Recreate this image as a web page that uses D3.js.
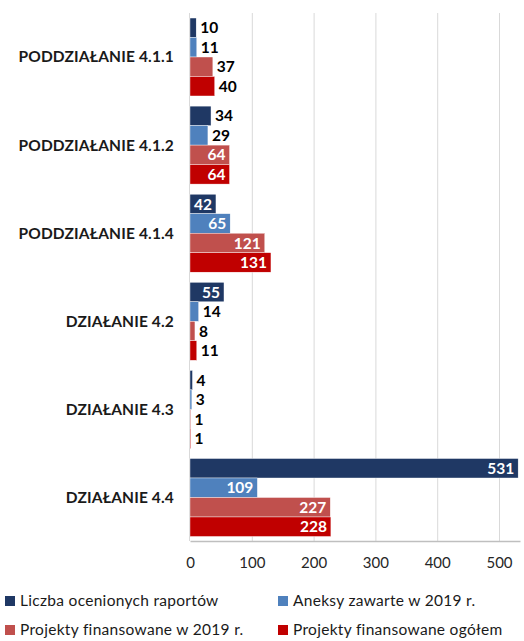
<!DOCTYPE html>
<html>
<head>
<meta charset="utf-8">
<script src="https://cdn.jsdelivr.net/npm/d3@7"></script>
<style>
  body { margin: 0; background: #fff; }
  text { font-family: Lato, "Open Sans", sans-serif; }
</style>
</head>
<body>
<div id="chart"></div>
<script>
const categories = ["PODDZIAŁANIE 4.1.1", "PODDZIAŁANIE 4.1.2", "PODDZIAŁANIE 4.1.4", "DZIAŁANIE 4.2", "DZIAŁANIE 4.3", "DZIAŁANIE 4.4"];
const seriesNames = ["Liczba ocenionych raportów", "Aneksy zawarte w 2019 r.", "Projekty finansowane w 2019 r.", "Projekty finansowane ogółem"];
const liczbaRaportow = [10, 34, 42, 55, 4, 531];
const aneksy2019 = [11, 29, 65, 14, 3, 109];
const projekty2019 = [37, 64, 121, 8, 1, 227];
const projektyOgolem = [40, 64, 131, 11, 1, 228];
const xTicks = [0, 100, 200, 300, 400, 500];
const colors = ["#1F3864", "#4F81BD", "#C0504D", "#C00000"];

const seriesValues = [liczbaRaportow, aneksy2019, projekty2019, projektyOgolem];

const width = 524, height = 641;
const margin = { top: 13, right: 4, bottom: 100, left: 190 };

const svg = d3.select("#chart").append("svg")
    .attr("width", width)
    .attr("height", height);

const x = d3.scaleLinear()
    .domain([0, 534])
    .range([margin.left, width - margin.right]);

const y = d3.scaleBand()
    .domain(categories)
    .range([margin.top, height - margin.bottom + 0.5])
    .paddingInner(0.115)
    .paddingOuter(0.057);

const ySub = d3.scaleBand()
    .domain(d3.range(seriesValues.length))
    .range([0, y.bandwidth()]);

// gridlines
svg.append("g")
    .selectAll("line")
    .data(xTicks.slice(1))
    .join("line")
    .attr("x1", d => x(d) + 0.5)
    .attr("x2", d => x(d) + 0.5)
    .attr("y1", margin.top)
    .attr("y2", height - margin.bottom)
    .attr("stroke", "#D9D9D9")
    .attr("stroke-width", 1);

// left axis line
svg.append("line")
    .attr("x1", x(0) - 0.5).attr("x2", x(0) - 0.5)
    .attr("y1", margin.top).attr("y2", height - margin.bottom)
    .attr("stroke", "#D9D9D9");

// bottom axis
const xAxis = svg.append("g")
    .attr("transform", `translate(0, ${height - margin.bottom})`)
    .call(d3.axisBottom(x).tickValues(xTicks).tickSize(0).tickPadding(16));
xAxis.select(".domain").attr("stroke", "#BFBFBF").attr("stroke-width", 1.5);
xAxis.selectAll("text")
    .attr("font-size", "15px")
    .attr("fill", "#262626")
    .style("font-family", "Lato, sans-serif");

// category labels
svg.append("g")
    .selectAll("text")
    .data(categories)
    .join("text")
    .attr("x", 174)
    .attr("y", d => y(d) + y.bandwidth() / 2)
    .attr("dy", "0.35em")
    .attr("text-anchor", "end")
    .attr("font-size", "15.5px")
    .attr("font-weight", "bold")
    .attr("letter-spacing", "0.15px")
    .attr("fill", "#1a1a1a")
    .text(d => d);

// bars
const rows = [];
categories.forEach((c, i) => {
    seriesValues.forEach((vals, s) => rows.push({ cat: c, s: s, value: vals[i] }));
});

svg.append("g")
    .selectAll("rect")
    .data(rows)
    .join("rect")
    .attr("x", x(0))
    .attr("y", d => y(d.cat) + ySub(d.s))
    .attr("width", d => x(d.value) - x(0))
    .attr("height", ySub.bandwidth())
    .attr("fill", d => colors[d.s])
    .attr("stroke", "#fff")
    .attr("stroke-width", 0.4);

// value labels: inside (white) when the bar is wide enough, otherwise outside
const labels = svg.append("g")
    .selectAll("text")
    .data(rows)
    .join("text")
    .attr("y", d => y(d.cat) + ySub(d.s) + ySub.bandwidth() / 2)
    .attr("dy", "0.36em")
    .attr("font-size", "15.5px")
    .attr("font-weight", "bold")
    .text(d => d.value);

labels.each(function (d) {
    const t = d3.select(this);
    const barW = x(d.value) - x(0);
    if (barW >= 25.5) {
        t.attr("x", x(d.value) - 4).attr("text-anchor", "end").attr("fill", "#fff");
    } else {
        t.attr("x", x(d.value) + 4).attr("text-anchor", "start").attr("fill", "#000");
    }
});

// legend
const legendPos = [[5, 601], [278, 601], [5, 630], [278, 630]];
const legend = svg.append("g")
    .selectAll("g")
    .data(seriesNames)
    .join("g")
    .attr("transform", (d, i) => `translate(${legendPos[i][0]}, ${legendPos[i][1]})`);

legend.append("rect")
    .attr("x", 0).attr("y", -5)
    .attr("width", 10).attr("height", 10)
    .attr("fill", (d, i) => colors[i]);

legend.append("text")
    .attr("x", 15)
    .attr("dy", "0.35em")
    .attr("font-size", "15.5px")
    .attr("letter-spacing", "0.3px")
    .attr("fill", "#1a1a1a")
    .text(d => d);
</script>
</body>
</html>
